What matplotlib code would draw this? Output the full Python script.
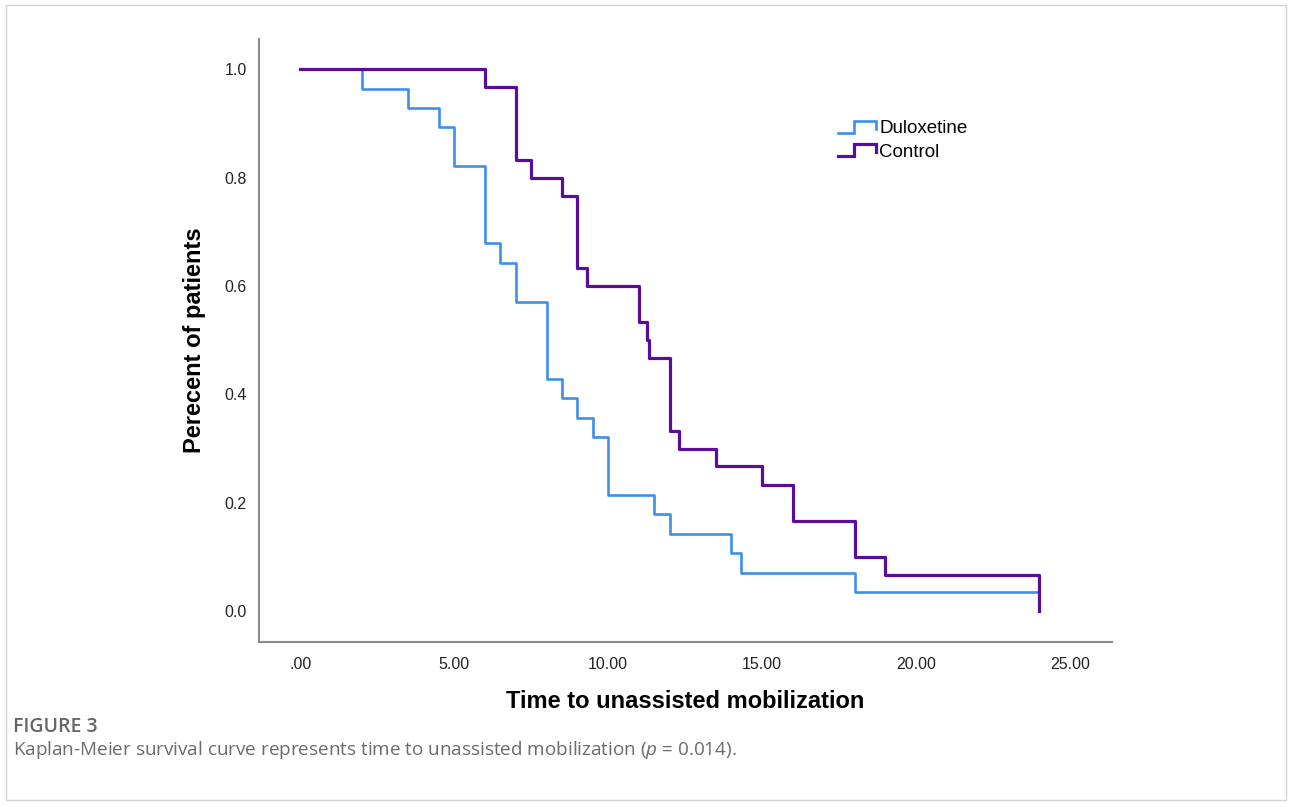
import matplotlib
matplotlib.use("Agg")
import matplotlib.pyplot as plt
import numpy as np
from matplotlib.lines import Line2D
from matplotlib.legend_handler import HandlerBase
from matplotlib.patches import Rectangle

# Kaplan-Meier step data
dulox_time = [0, 2, 3.5, 4.5, 5, 6, 6.5, 7, 8, 8.5, 9, 9.5, 10, 11.5, 12, 14, 14.3, 18, 24]
dulox_surv = [1.0, 0.964, 0.929, 0.893, 0.821, 0.679, 0.643, 0.571, 0.429, 0.393,
              0.357, 0.321, 0.214, 0.179, 0.143, 0.107, 0.071, 0.036, 0.036]

ctrl_time = [0, 6, 7, 7.5, 8.5, 9, 9.3, 11, 11.25, 11.33, 12, 12.3, 13.5, 15, 16, 18, 19, 24, 24]
ctrl_surv = [1.0, 0.967, 0.833, 0.800, 0.767, 0.633, 0.600, 0.533, 0.500, 0.467,
             0.333, 0.300, 0.267, 0.233, 0.167, 0.100, 0.067, 0.067, 0.0]

x_ticks = [0, 5, 10, 15, 20, 25]
x_tick_labels = [".00", "5.00", "10.00", "15.00", "20.00", "25.00"]
y_ticks = [0.0, 0.2, 0.4, 0.6, 0.8, 1.0]
y_tick_labels = ["0.0", "0.2", "0.4", "0.6", "0.8", "1.0"]

series_names = ["Duloxetine", "Control"]
blue = "#3d8fe8"
purple = "#5a0d9b"

plt.rcParams["font.family"] = ["Liberation Sans", "DejaVu Sans"]
plt.rcParams["mathtext.fontset"] = "custom"
plt.rcParams["mathtext.it"] = "Open Sans:italic"
plt.rcParams["mathtext.rm"] = "Open Sans"


class StepHandler(HandlerBase):
    """Legend icon shaped like a small step."""
    def create_artists(self, legend, orig_handle, xdescent, ydescent,
                       width, height, fontsize, trans):
        xs = np.array([0, 0.42, 0.42, 1, 1]) * width - xdescent
        ys = np.array([0, 0, 1, 1, 0.35]) * height - ydescent
        line = Line2D(xs, ys, color=orig_handle.get_color(),
                      lw=orig_handle.get_linewidth(), solid_joinstyle="miter")
        line.set_transform(trans)
        return [line]


fig = plt.figure(figsize=(12.92, 8.07), dpi=100)
ax = fig.add_axes([0.2005, 0.2045, 0.6602, 0.7472])

l1, = ax.step(dulox_time, dulox_surv, where="post", color=blue, lw=1.9,
              label=series_names[0])
l2, = ax.step(ctrl_time, ctrl_surv, where="post", color=purple, lw=2.3,
              label=series_names[1])

ax.set_xlim(-1.34, 26.36)
ax.set_ylim(-0.057, 1.056)
ax.set_xticks(x_ticks)
ax.set_xticklabels(x_tick_labels)
ax.set_yticks(y_ticks)
ax.set_yticklabels(y_tick_labels)
ax.tick_params(length=0, labelsize=11.5, colors="#222222")
ax.tick_params(axis="x", pad=11)
ax.tick_params(axis="y", pad=9)

for side in ["top", "right"]:
    ax.spines[side].set_visible(False)
for side in ["left", "bottom"]:
    ax.spines[side].set_color("#8a8a8a")
    ax.spines[side].set_linewidth(1.5)

ax.set_xlabel("Time to unassisted mobilization", fontsize=17, fontweight="bold")
ax.xaxis.set_label_coords(0.5, -0.08)
ax.xaxis.label.set_va("top")
ax.set_ylabel("Perecent of patients", fontsize=17, fontweight="bold")
ax.yaxis.set_label_coords(-0.062, 0.5)

leg = ax.legend(handles=[l1, l2], loc="upper left", bbox_to_anchor=(0.679, 0.865),
                frameon=False, fontsize=13.5, borderpad=0, borderaxespad=0,
                handlelength=2.0, handleheight=0.6, handletextpad=0.2,
                labelspacing=0.33, handler_map={Line2D: StepHandler()})

# light frame around the whole panel
fig.patches.append(Rectangle((6 / 1292, 1 - 800 / 807), 1280 / 1292, 795 / 807,
                             transform=fig.transFigure, fill=False,
                             edgecolor="#d2d2d2", lw=1))

fig.text(13 / 1292, 1 - 727 / 807, "FIGURE 3", fontsize=14, color="#666666",
         family="Open Sans", fontweight="semibold", va="center")
fig.text(13 / 1292, 1 - 750 / 807,
         "Kaplan-Meier survival curve represents time to unassisted mobilization ($p$ = 0.014).",
         fontsize=13.6, color="#6b6b6b", family="Open Sans", va="center")

fig.savefig("out.png", dpi=100)
